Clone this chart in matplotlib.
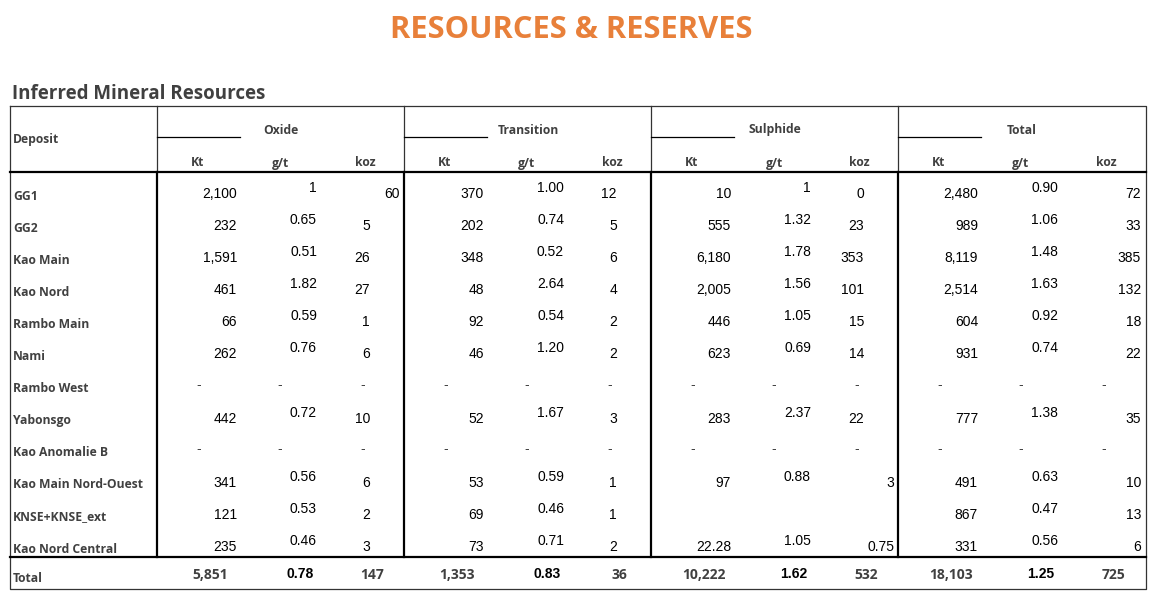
import matplotlib
matplotlib.use("Agg")
import matplotlib.pyplot as plt

title = "RESOURCES & RESERVES"
subtitle = "Inferred Mineral Resources"
groups = ["Oxide", "Transition", "Sulphide", "Total"]
subcols = ["Kt", "g/t", "koz"]
deposits = ["GG1", "GG2", "Kao Main", "Kao Nord", "Rambo Main", "Nami", "Rambo West",
            "Yabonsgo", "Kao Anomalie B", "Kao Main Nord-Ouest", "KNSE+KNSE_ext", "Kao Nord Central"]
oxide = [["2,100", "1", "60"], ["232", "0.65", "5"], ["1,591", "0.51", "26"], ["461", "1.82", "27"],
         ["66", "0.59", "1"], ["262", "0.76", "6"], ["-", "-", "-"], ["442", "0.72", "10"],
         ["-", "-", "-"], ["341", "0.56", "6"], ["121", "0.53", "2"], ["235", "0.46", "3"]]
transition = [["370", "1.00", "12"], ["202", "0.74", "5"], ["348", "0.52", "6"], ["48", "2.64", "4"],
              ["92", "0.54", "2"], ["46", "1.20", "2"], ["-", "-", "-"], ["52", "1.67", "3"],
              ["-", "-", "-"], ["53", "0.59", "1"], ["69", "0.46", "1"], ["73", "0.71", "2"]]
sulphide = [["10", "1", "0"], ["555", "1.32", "23"], ["6,180", "1.78", "353"], ["2,005", "1.56", "101"],
            ["446", "1.05", "15"], ["623", "0.69", "14"], ["-", "-", "-"], ["283", "2.37", "22"],
            ["-", "-", "-"], ["97", "0.88", "3"], ["", "", ""], ["22.28", "1.05", "0.75"]]
total = [["2,480", "0.90", "72"], ["989", "1.06", "33"], ["8,119", "1.48", "385"], ["2,514", "1.63", "132"],
         ["604", "0.92", "18"], ["931", "0.74", "22"], ["-", "-", "-"], ["777", "1.38", "35"],
         ["-", "-", "-"], ["491", "0.63", "10"], ["867", "0.47", "13"], ["331", "0.56", "6"]]
totals_row = [["5,851", "0.78", "147"], ["1,353", "0.83", "36"], ["10,222", "1.62", "532"], ["18,103", "1.25", "725"]]

data = [oxide, transition, sulphide, total]

fig = plt.figure(figsize=(11.61, 6.02), dpi=100)
ax = fig.add_axes([0, 0, 1, 1])
ax.set_xlim(0, 1161); ax.set_ylim(602, 0); ax.axis("off")

ax.text(571, 30, title, ha="center", va="center", fontsize=22.2, fontweight="bold",
        color="#E8803A", family="Open Sans")
ax.text(12, 94, subtitle, ha="left", va="center", fontsize=13.5, fontweight="bold",
        color="#404040", family="Open Sans")

L, R, T, HB, TT, B = 10, 1146, 106, 172, 557, 589
gx = [157, 404, 651, 898]
lc = "#333333"
ax.plot([L, R, R, L, L], [T, T, B, B, T], color=lc, lw=0.9)
ax.plot([L, R], [HB, HB], color="black", lw=1.6)
ax.plot([L, R], [TT, TT], color="black", lw=1.6)
for i, x in enumerate(gx):
    ax.plot([x, x], [T, HB], color=lc, lw=0.9)
    ax.plot([x, x], [HB, TT], color="black", lw=1.6)
    ax.plot([x, x + 83], [137, 137], color="black", lw=0.9)
    ax.text(x + 124, 130, groups[i], ha="center", va="center", fontsize=8.7, fontweight="bold",
            color="#404040", family="Open Sans")
    for j, (sc, off) in enumerate(zip(subcols, [41, 123, 208])):
        ax.text(x + off, 163, sc, ha="center", va="center", fontsize=8.7, fontweight="bold",
                color="#404040", family="Open Sans")
ax.text(13, 140, "Deposit", ha="left", va="center", fontsize=8.7, fontweight="bold",
        color="#404040", family="Open Sans")

row_y = [194 + 32.1 * k for k in range(len(deposits))]
edge_cells = {(0, 0, 2), (2, 9, 2), (2, 11, 2)}
for r, (name, y) in enumerate(zip(deposits, row_y)):
    ax.text(13, y + 2, name, ha="left", va="center", fontsize=8.7, fontweight="bold",
            color="#404040", family="Open Sans")
    for g, x in enumerate(gx):
        vals = data[g][r]
        for c, v in enumerate(vals):
            if v == "-":
                ax.text(x + [42, 123, 206][c], y - 2, v, ha="center", va="center",
                        fontsize=10, color="#404040", family="Liberation Sans")
                continue
            if g == 3 and c == 2 or (g, r, c) in edge_cells:
                xr = x + 243
            else:
                xr = x + [80, 160, 213][c]
            dy = -6 if c == 1 else 0
            ax.text(xr, y + dy, v, ha="right", va="center", fontsize=10, color="black",
                    family="Liberation Sans")

ty = 575
ax.text(13, 579, "Total", ha="left", va="center", fontsize=8.7, fontweight="bold",
        color="#404040", family="Open Sans")
for g, x in enumerate(gx):
    for c, v in enumerate(totals_row[g]):
        if c == 1:
            ax.text(x + 143, ty - 1, v, ha="center", va="center", fontsize=10, fontweight="bold",
                    color="black", family="Liberation Sans")
        else:
            ax.text(x + [53, 215][c // 2], ty, v, ha="center", va="center", fontsize=10,
                    fontweight="bold", color="#404040", family="Open Sans")

fig.savefig("out.png", dpi=100)
